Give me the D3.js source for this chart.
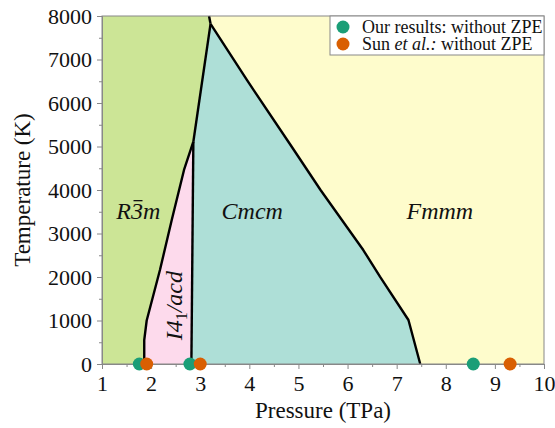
<!DOCTYPE html>
<html>
<head>
<meta charset="utf-8">
<script src="https://cdn.jsdelivr.net/npm/d3@7"></script>
<style>
  body { margin: 0; background: #fff; }
</style>
</head>
<body>
<div id="chart"></div>
<script>
// Phase boundaries, [pressure TPa, temperature K]
const r3mI4Line = [[1.86, 0], [1.86, 550], [1.91, 1000], [2.18, 2160], [2.42, 3310], [2.67, 4460], [2.86, 5110]];
const i4CmcmLine = [[2.82, 0], [2.86, 5110]];
const r3mCmcmLine = [[2.86, 5110], [3.21, 7820]];
const r3mFmmmLine = [[3.21, 7820], [3.18, 8000]];
const cmcmFmmmLine = [[3.21, 7820], [3.95, 6530], [4.86, 5000], [5.45, 4000], [6.32, 2620], [6.66, 2007], [7.24, 1011], [7.48, 0]];

// Transition pressures at 0 K
const ourPressures = [1.76, 2.79, 8.56];
const sunPressures = [1.91, 3.0, 9.31];

const xTicks = [1, 2, 3, 4, 5, 6, 7, 8, 9, 10];
const yTicks = [0, 1000, 2000, 3000, 4000, 5000, 6000, 7000, 8000];

const colors = { r3m: "#cce596", i4: "#fddaec", cmcm: "#aedfd7", fmmm: "#fefccc", ours: "#1b9e77", sun: "#d95f02" };
const FONT = "'Liberation Serif', 'Times New Roman', serif";

const W = 555, H = 428;
const margin = { top: 16, right: 11, bottom: 64, left: 102 };
const width = W - margin.left - margin.right;
const height = H - margin.top - margin.bottom;

const svg = d3.select("#chart").append("svg")
  .attr("width", W).attr("height", H);
const g = svg.append("g").attr("transform", `translate(${margin.left},${margin.top})`);

const x = d3.scaleLinear().domain([1, 10]).range([0, width]);
const y = d3.scaleLinear().domain([0, 8000]).range([height, 0]);

const line = d3.line().x(d => x(d[0])).y(d => y(d[1]));
const rev = a => a.slice().reverse();

// Phase regions built from the boundaries
const regions = [
  { c: colors.r3m, pts: [[1, 0], ...r3mI4Line, ...r3mCmcmLine.slice(1), ...r3mFmmmLine.slice(1), [1, 8000]] },
  { c: colors.i4, pts: [...r3mI4Line, ...rev(i4CmcmLine)] },
  { c: colors.cmcm, pts: [...i4CmcmLine, ...r3mCmcmLine.slice(1), ...cmcmFmmmLine.slice(1)] },
  { c: colors.fmmm, pts: [...rev(r3mFmmmLine), ...cmcmFmmmLine.slice(1), [10, 0], [10, 8000]] }
];
g.selectAll("path.region").data(regions).join("path")
  .attr("class", "region")
  .attr("d", d => line(d.pts) + "Z")
  .attr("fill", d => d.c);

// Boundary lines
[r3mI4Line, i4CmcmLine, r3mCmcmLine, r3mFmmmLine, cmcmFmmmLine].forEach(b => {
  g.append("path").attr("d", line(b))
    .attr("fill", "none").attr("stroke", "#000").attr("stroke-width", 2.4)
    .attr("stroke-linejoin", "round");
});

// Frame
g.append("rect").attr("width", width).attr("height", height)
  .attr("fill", "none").attr("stroke", "#888").attr("stroke-width", 1);

// Axes
g.append("g").attr("transform", `translate(0,${height})`)
  .call(d3.axisBottom(x).tickValues(xTicks).tickFormat(d3.format("d")).tickSize(5).tickPadding(6));
g.append("g").attr("transform", `translate(0,${height})`)
  .call(d3.axisBottom(x).tickValues(d3.range(1.5, 10, 1)).tickFormat("").tickSize(3));
g.append("g")
  .call(d3.axisLeft(y).tickValues(yTicks).tickFormat(d3.format("d")).tickSize(5).tickPadding(5));
g.append("g")
  .call(d3.axisLeft(y).tickValues(d3.range(500, 8000, 1000)).tickFormat("").tickSize(3));
g.selectAll(".domain").attr("stroke", "#888");
g.selectAll(".tick line").attr("stroke", "#888");
g.selectAll(".tick text").style("font-size", "22px");

// Axis labels
svg.append("text").attr("x", margin.left + width / 2).attr("y", 418)
  .attr("text-anchor", "middle").style("font-size", "23px").text("Pressure (TPa)");
svg.append("text").attr("transform", `translate(30,${margin.top + height / 2}) rotate(-90)`)
  .attr("text-anchor", "middle").style("font-size", "23px").text("Temperature (K)");

// Phase labels
const lab = g.append("g").style("font-size", "24px").style("font-style", "italic");
const r3m = lab.append("text").attr("x", x(1.74)).attr("y", y(3330)).attr("text-anchor", "middle");
r3m.append("tspan").text("R");
r3m.append("tspan").text("3");
r3m.append("tspan").text("m");
lab.append("text").attr("x", x(4.06)).attr("y", y(3330)).attr("text-anchor", "middle").text("Cmcm");
lab.append("text").attr("x", x(7.88)).attr("y", y(3330)).attr("text-anchor", "middle").text("Fmmm");
const i4 = lab.append("text")
  .attr("transform", `translate(${x(2.62)},${y(1340)}) rotate(-90)`)
  .attr("text-anchor", "middle");
i4.append("tspan").text("I4");
i4.append("tspan").attr("dy", 5).style("font-size", "16px").style("font-style", "normal").text("1");
i4.append("tspan").attr("dy", -5).text("/acd");

// Transition points at 0 K
g.selectAll("circle.ours").data(ourPressures).join("circle")
  .attr("class", "ours").attr("cx", d => x(d)).attr("cy", y(0)).attr("r", 6.5)
  .attr("fill", colors.ours);
g.selectAll("circle.sun").data(sunPressures).join("circle")
  .attr("class", "sun").attr("cx", d => x(d)).attr("cy", y(0)).attr("r", 6.5)
  .attr("fill", colors.sun);

// Legend
const leg = g.append("g").attr("transform", `translate(${width - 214},0)`);
leg.append("rect").attr("width", 214).attr("height", 39)
  .attr("fill", "#fff").attr("stroke", "#888");
leg.append("circle").attr("cx", 13).attr("cy", 11).attr("r", 6.5).attr("fill", colors.ours);
leg.append("circle").attr("cx", 13).attr("cy", 28).attr("r", 6.5).attr("fill", colors.sun);
leg.append("text").attr("x", 32).attr("y", 17).style("font-size", "18px").text("Our results: without ZPE");
const sunText = leg.append("text").attr("x", 32).attr("y", 34).style("font-size", "18px");
sunText.append("tspan").text("Sun ");
sunText.append("tspan").style("font-style", "italic").text("et al.:");
sunText.append("tspan").text(" without ZPE");

svg.selectAll("text").style("font-family", FONT).attr("fill", "#111");

// Bar over the 3 in R-3m
const ext = r3m.node().getExtentOfChar(1);
lab.append("line")
  .attr("x1", ext.x + 2.5).attr("x2", ext.x + ext.width - 0.5)
  .attr("y1", y(3330) - 18.5).attr("y2", y(3330) - 18.5)
  .attr("stroke", "#111").attr("stroke-width", 1.3);
</script>
</body>
</html>
